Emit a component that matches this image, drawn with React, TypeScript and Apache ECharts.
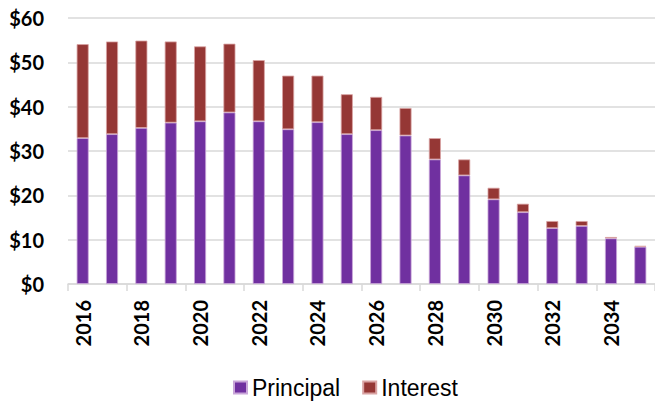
import React, { useEffect, useRef } from "react";
import * as echarts from "echarts";

const years = ["2016","2017","2018","2019","2020","2021","2022","2023","2024","2025","2026","2027","2028","2029","2030","2031","2032","2033","2034","2035"];
const principal = [32.9, 33.8, 35.2, 36.4, 36.7, 38.7, 36.7, 34.9, 36.5, 33.8, 34.7, 33.5, 28.1, 24.5, 19.1, 16.2, 12.6, 13.1, 10.3, 8.4];
const interest = [21.2, 20.9, 19.7, 18.3, 16.9, 15.5, 13.8, 12.1, 10.5, 9.0, 7.5, 6.2, 4.8, 3.6, 2.6, 1.9, 1.6, 1.1, 0.3, 0.2];
const yTicks = { min: 0, max: 60, interval: 10 };

export default function App() {
  const ref = useRef<HTMLDivElement>(null);
  useEffect(() => {
    const chart = echarts.init(ref.current!, null, { renderer: "svg" });
    chart.setOption({
      animation: false,
      grid: { left: 68, top: 18, right: -9, bottom: 119 },
      legend: {
        top: 376,
        left: 233,
        padding: 0,
        itemWidth: 13,
        itemHeight: 12,
        itemGap: 22,
        itemTextGap: 5,
        icon: "rect",
        textStyle: { fontFamily: "Liberation Sans", fontSize: 23, color: "#000" },
        data: ["Principal", "Interest"],
      },
      xAxis: {
        type: "category",
        data: years,
        axisLine: { lineStyle: { color: "#d9d9d9", width: 1.5 } },
        axisTick: { show: true, length: 7, lineStyle: { color: "#d9d9d9", width: 1.5 } },
        axisLabel: {
          interval: 1,
          rotate: 90,
          margin: 16,
          fontFamily: "Lato",
          fontWeight: "bold",
          fontSize: 20,
          color: "#000",
        },
      },
      yAxis: {
        type: "value",
        min: yTicks.min,
        max: yTicks.max,
        interval: yTicks.interval,
        axisLine: { show: false },
        axisTick: { show: false },
        splitLine: { lineStyle: { color: "#d9d9d9", width: 1.5 } },
        axisLabel: {
          formatter: (v: number) => "$" + v,
          margin: 24,
          fontFamily: "Lato",
          fontWeight: "bold",
          fontSize: 20,
          color: "#000",
        },
      },
      series: [
        {
          name: "Principal",
          type: "bar",
          stack: "a",
          data: principal,
          barWidth: 12,
          itemStyle: { color: "#7030A0", borderColor: "#c9a6d9", borderWidth: 0.8 },
        },
        {
          name: "Interest",
          type: "bar",
          stack: "a",
          data: interest,
          barWidth: 12,
          itemStyle: { color: "#953735", borderColor: "#d9a3a3", borderWidth: 0.8 },
        },
      ],
    });
    return () => chart.dispose();
  }, []);
  return <div ref={ref} style={{ width: 655, height: 403, position: "absolute", left: 0, top: 0 }} />;
}
